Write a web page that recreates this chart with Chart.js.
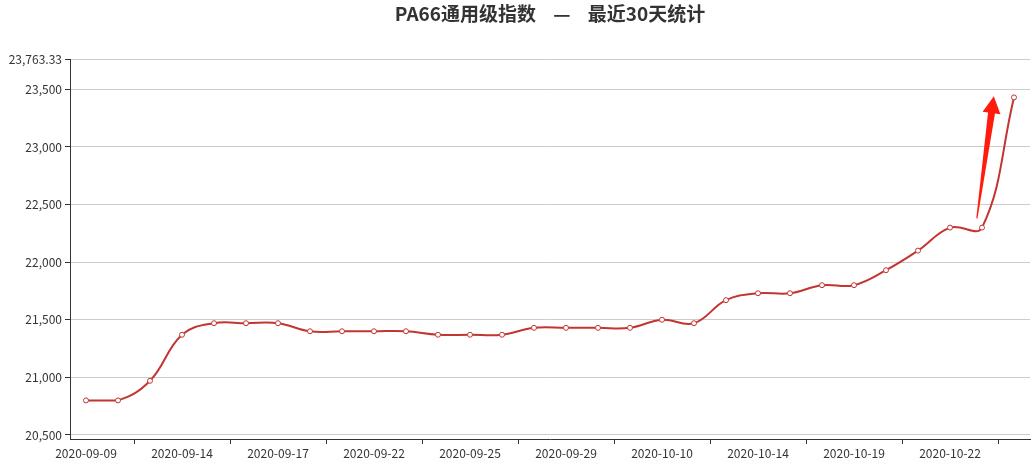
<!DOCTYPE html>
<html>
<head>
<meta charset="utf-8">
<script src="https://cdn.jsdelivr.net/npm/chart.js@4/dist/chart.umd.min.js"></script>
<style>
    html, body { margin: 0; padding: 0; background: #fff; }
    #wrap { width: 1036px; height: 471px; }
</style>
</head>
<body>
<div id="wrap"><canvas id="priceChart"></canvas></div>
<script>
// 날짜 (거래일, 9/27 보충 근무일 포함)
const dates = [
    '2020-09-09', '2020-09-10', '2020-09-11', '2020-09-14', '2020-09-15',
    '2020-09-16', '2020-09-17', '2020-09-18', '2020-09-21', '2020-09-22',
    '2020-09-23', '2020-09-24', '2020-09-25', '2020-09-27', '2020-09-28',
    '2020-09-29', '2020-09-30', '2020-10-09', '2020-10-10', '2020-10-12',
    '2020-10-13', '2020-10-14', '2020-10-15', '2020-10-16', '2020-10-19',
    '2020-10-20', '2020-10-21', '2020-10-22', '2020-10-23', '2020-10-26'
];

// 지수 값
const indexValues = [
    20800, 20800, 20970, 21370, 21470,
    21470, 21470, 21400, 21400, 21400,
    21400, 21370, 21370, 21370, 21430,
    21430, 21430, 21430, 21500, 21470,
    21670, 21730, 21730, 21800, 21800,
    21930, 22100, 22300, 22300, 23430
];

// y축 눈금
const yTicks = [20500, 21000, 21500, 22000, 22500, 23000, 23500, 23763.33];
const yMin = 20465;
const yMax = 23763.33;

// 화살표 (카테고리 인덱스, 값)
const arrowFrom = { index: 27.84, value: 22380 };
const arrowTo = { index: 28.37, value: 23440 };

const lineColor = '#c23531';

function xAt(scale, idx) {
    const i = Math.floor(idx);
    const a = scale.getPixelForValue(i);
    const b = scale.getPixelForValue(i + 1);
    return a + (b - a) * (idx - i);
}

// 곡선 제어점을 데이터 범위 안으로 제한
const clampPlugin = {
    id: 'clampCurve',
    beforeDatasetsDraw(chart) {
        const ys = chart.scales.y;
        const top = ys.getPixelForValue(Math.max(...indexValues));
        const bottom = ys.getPixelForValue(Math.min(...indexValues));
        chart.getDatasetMeta(0).data.forEach(p => {
            if (p.cp1y !== undefined) p.cp1y = Math.min(bottom, Math.max(top, p.cp1y));
            if (p.cp2y !== undefined) p.cp2y = Math.min(bottom, Math.max(top, p.cp2y));
        });
    }
};

// 제목 + 화살표 그리기
const overlayPlugin = {
    id: 'overlay',
    afterDraw(chart) {
        const ctx = chart.ctx;
        const xs = chart.scales.x;
        const ys = chart.scales.y;

        ctx.save();
        ctx.fillStyle = '#333';
        ctx.font = 'bold 19px "Noto Sans CJK SC", sans-serif';
        ctx.textAlign = 'center';
        ctx.textBaseline = 'middle';
        ctx.fillText('PA66通用级指数    —    最近30天统计', 550, 14);

        const x1 = xAt(xs, arrowFrom.index), y1 = ys.getPixelForValue(arrowFrom.value);
        const x2 = xAt(xs, arrowTo.index), y2 = ys.getPixelForValue(arrowTo.value);
        const len = Math.hypot(x2 - x1, y2 - y1);
        const ux = (x2 - x1) / len, uy = (y2 - y1) / len;
        const nx = -uy, ny = ux;
        const headLen = 17, headHalf = 9, tailHalf = 0.6, neckHalf = 3.5;
        const bx = x2 - ux * headLen, by = y2 - uy * headLen;

        ctx.fillStyle = '#ff1c0e';
        ctx.beginPath();
        ctx.moveTo(x1 + nx * tailHalf, y1 + ny * tailHalf);
        ctx.lineTo(bx + nx * neckHalf, by + ny * neckHalf);
        ctx.lineTo(bx + nx * headHalf, by + ny * headHalf);
        ctx.lineTo(x2, y2);
        ctx.lineTo(bx - nx * headHalf, by - ny * headHalf);
        ctx.lineTo(bx - nx * neckHalf, by - ny * neckHalf);
        ctx.lineTo(x1 - nx * tailHalf, y1 - ny * tailHalf);
        ctx.closePath();
        ctx.fill();
        ctx.restore();
    }
};

const tickFont = { family: '"Noto Sans CJK SC", sans-serif', size: 12 };

new Chart(document.getElementById('priceChart').getContext('2d'), {
    type: 'line',
    data: {
        labels: dates,
        datasets: [{
            data: indexValues,
            borderColor: lineColor,
            borderWidth: 2,
            tension: 0.4,
            fill: false,
            pointRadius: 2.5,
            pointBorderWidth: 1,
            pointBorderColor: lineColor,
            pointBackgroundColor: '#fff'
        }]
    },
    options: {
        responsive: true,
        maintainAspectRatio: false,
        animation: false,
        layout: { padding: { top: 59, right: 6, bottom: 0, left: 0 } },
        plugins: {
            legend: { display: false },
            tooltip: { enabled: false }
        },
        scales: {
            x: {
                offset: true,
                border: { color: '#333', width: 1 },
                grid: {
                    offset: true,
                    drawOnChartArea: false,
                    tickLength: 5,
                    color: (c) => (c.index % 3 === 2 ? '#333' : 'rgba(0,0,0,0)')
                },
                ticks: {
                    autoSkip: false,
                    maxRotation: 0,
                    color: '#333',
                    font: tickFont,
                    padding: 2,
                    callback: function(value, index) {
                        return index % 3 === 0 ? dates[index] : '';
                    }
                },
                afterFit: (scale) => { scale.height = 32; }
            },
            y: {
                min: yMin,
                max: yMax,
                border: { color: '#333', width: 1 },
                grid: {
                    color: '#ccc',
                    tickColor: '#333',
                    tickLength: 5
                },
                ticks: {
                    color: '#333',
                    font: tickFont,
                    padding: 3,
                    callback: (v) => Number(v).toLocaleString('en-US', { maximumFractionDigits: 2 })
                },
                afterBuildTicks: (scale) => { scale.ticks = yTicks.map(v => ({ value: v })); },
                afterFit: (scale) => { scale.width = 70; }
            }
        }
    },
    plugins: [clampPlugin, overlayPlugin]
});
</script>
</body>
</html>
